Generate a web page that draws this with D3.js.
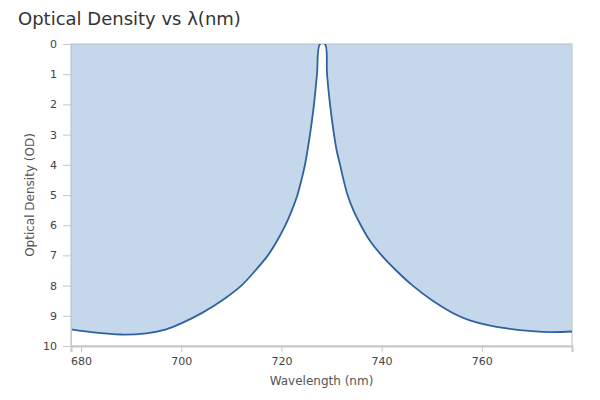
<!DOCTYPE html>
<html>
<head>
  <script src="https://cdnjs.cloudflare.com/ajax/libs/d3/7.8.5/d3.min.js"></script>
  <style>
    body { margin: 0; background: #fff; }
    text { font-family: "DejaVu Sans", sans-serif; }
    .tick line { stroke: #c8c8c8; }
    .tick text { fill: #444; font-size: 11px; }
  </style>
</head>
<body>
  <div id="chart"></div>
  <script>
    // values
    const wavelength = [678, 683, 688, 693, 697, 700, 704, 708.5, 712, 714.8, 717.3, 719.2, 720.8,
      722.1, 723.2, 724, 724.7, 725.7, 726.5, 727.1, 727.7, 728.7, 729.1, 729.7, 730.5, 731,
      731.7, 732.4, 733.2, 734.35, 735.85, 737.6, 740, 742.9, 746.2, 750.2, 755.3, 757.6, 761,
      765, 770, 774, 778];
    const density = [9.45, 9.56, 9.62, 9.58, 9.45, 9.25, 8.92, 8.45, 8.0, 7.5, 7.0, 6.5, 6.0,
      5.5, 5.0, 4.5, 4.0, 3.0, 2.0, 1.0, 0, 0, 1.0, 2.0, 3.0, 3.5,
      4.0, 4.5, 5.0, 5.5, 6.0, 6.5, 7.0, 7.5, 8.0, 8.5, 9.0, 9.15, 9.3,
      9.42, 9.51, 9.54, 9.52];
    const xTicks = [680, 700, 720, 740, 760];
    const yTicks = [0, 1, 2, 3, 4, 5, 6, 7, 8, 9, 10];

    const W = 600, H = 400;
    const plot = {left: 71, right: 572, top: 44, bottom: 346};

    const svg = d3.select("#chart").append("svg")
      .attr("width", W)
      .attr("height", H);

    svg.append("clipPath")
      .attr("id", "plot-clip")
      .append("rect")
      .attr("x", plot.left)
      .attr("y", plot.top)
      .attr("width", plot.right - plot.left)
      .attr("height", plot.bottom - plot.top);

    const x = d3.scaleLinear().domain([678, 778]).range([plot.left, plot.right]);
    const y = d3.scaleLinear().domain([0, 10]).range([plot.top, plot.bottom]);

    const data = wavelength.map((w, i) => ({w: w, od: density[i]}));
    const curve = d3.curveCatmullRom.alpha(0.5);

    // shaded area between top of the plot and the curve
    const area = d3.area()
      .x(d => x(d.w))
      .y0(y(0))
      .y1(d => y(d.od))
      .curve(curve);

    svg.append("path")
      .datum(data)
      .attr("clip-path", "url(#plot-clip)")
      .attr("fill", "#c5d7ea")
      .attr("d", area);

    // frame
    svg.append("rect")
      .attr("x", plot.left)
      .attr("y", plot.top)
      .attr("width", plot.right - plot.left)
      .attr("height", plot.bottom - plot.top)
      .attr("fill", "none")
      .attr("stroke", "#b9c0c8")
      .attr("stroke-width", 1);

    const line = d3.line()
      .x(d => x(d.w))
      .y(d => y(d.od))
      .curve(curve);

    svg.append("path")
      .datum(data)
      .attr("clip-path", "url(#plot-clip)")
      .attr("fill", "none")
      .attr("stroke", "#2f62a0")
      .attr("stroke-width", 1.8)
      .attr("d", line);

    // axes
    svg.append("g")
      .attr("transform", `translate(0,${plot.bottom})`)
      .call(d3.axisBottom(x).tickValues(xTicks).tickSize(6).tickPadding(5))
      .call(g => g.select(".domain").attr("stroke", "#c8c8c8").attr("stroke-width", 2));

    svg.append("g")
      .attr("transform", `translate(${plot.left},0)`)
      .call(d3.axisLeft(y).tickValues(yTicks).tickSize(8).tickPadding(6))
      .call(g => g.select(".domain").attr("stroke", "#c8c8c8"));

    // title and labels
    svg.append("text")
      .attr("x", 18)
      .attr("y", 25)
      .style("font-size", "18px")
      .style("fill", "#333")
      .text("Optical Density vs λ(nm)");

    svg.append("text")
      .attr("x", (plot.left + plot.right) / 2)
      .attr("y", 385)
      .attr("text-anchor", "middle")
      .style("font-size", "12px")
      .style("fill", "#555")
      .text("Wavelength (nm)");

    svg.append("text")
      .attr("transform", `translate(34,${(plot.top + plot.bottom) / 2}) rotate(-90)`)
      .attr("text-anchor", "middle")
      .style("font-size", "12px")
      .style("fill", "#555")
      .text("Optical Density (OD)");
  </script>
</body>
</html>
